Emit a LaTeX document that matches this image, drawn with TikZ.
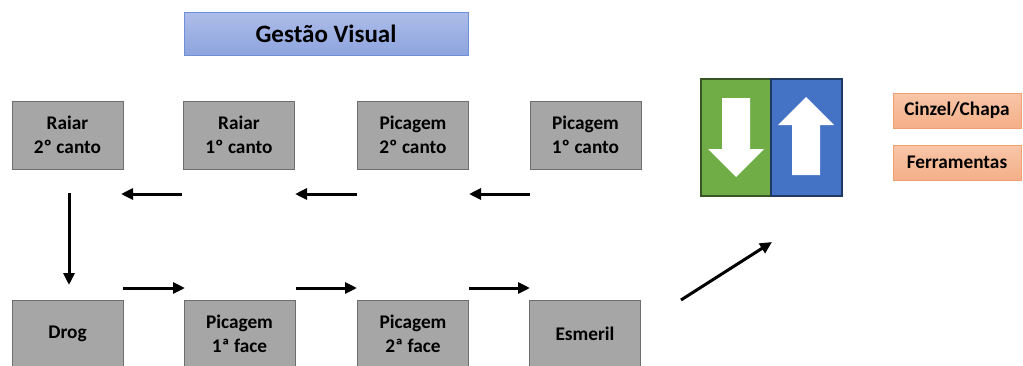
\documentclass[tikz,border=0pt]{standalone}
\usepackage{fontspec}
\setmainfont{Carlito}
\usetikzlibrary{arrows.meta}
\definecolor{boxgray}{HTML}{A6A6A6}
\definecolor{boxedge}{HTML}{6E6E6E}
\definecolor{titletop}{HTML}{AEBDE9}
\definecolor{titlebot}{HTML}{8DA4DE}
\definecolor{titleedge}{HTML}{6F8FD6}
\definecolor{orangetop}{HTML}{F8C6A8}
\definecolor{orangebot}{HTML}{F4AF88}
\definecolor{orangeedge}{HTML}{F2A072}
\definecolor{signgreen}{HTML}{70AD47}
\definecolor{signblue}{HTML}{4472C4}
\definecolor{greenedge}{HTML}{375623}
\definecolor{blueedge}{HTML}{1F3864}
\tikzset{
  stepbox/.style={draw=boxedge, fill=boxgray, line width=1pt,
    minimum width=111pt, minimum height=68pt, inner sep=0pt, align=center,
    font=\bfseries\fontsize{19.3}{24}\selectfont},
  titlebox/.style={draw=titleedge, top color=titletop, bottom color=titlebot,
    line width=0.8pt, minimum width=284pt, minimum height=43pt, inner sep=0pt,
    font=\bfseries\fontsize{25}{30}\selectfont},
  tagbox/.style={draw=orangeedge, top color=orangetop, bottom color=orangebot,
    line width=0.8pt, minimum width=128pt, minimum height=35pt, inner sep=0pt,
    font=\bfseries\fontsize{19.3}{22}\selectfont},
  flow/.style={line width=3pt, -{Triangle[length=12pt,width=11pt]}},
}
\begin{document}
\begin{tikzpicture}[x=1pt, y=-1pt]
\useasboundingbox (0,0) rectangle (1023,365);

% title
\node[titlebox] (title) at (326,33.5) {Gestão Visual};

% upper row
\node[stepbox] (r2) at (67.5,135) {Raiar\\2º canto};
\node[stepbox] (r1) at (239,135) {Raiar\\1º canto};
\node[stepbox] (p2) at (413,135) {Picagem\\2º canto};
\node[stepbox] (p1) at (585.5,135) {Picagem\\1º canto};

% lower row
\node[stepbox] (drog) at (67.5,334) {Drog};
\node[stepbox] (f1) at (239.5,334) {Picagem\\1ª face};
\node[stepbox] (f2) at (413,334) {Picagem\\2ª face};
\node[stepbox] (esm) at (585,334) {Esmeril};

% tags
\node[tagbox] (cinzel) at (957,110.5) {Cinzel/Chapa};
\node[tagbox] (ferr) at (957,162.5) {Ferramentas};

% down / up sign
\node[draw=greenedge, fill=signgreen, line width=1.2pt, minimum width=70pt,
  minimum height=117pt, inner sep=0pt] (down) at (736,137.5) {};
\node[draw=blueedge, fill=signblue, line width=1.2pt, minimum width=71pt,
  minimum height=117pt, inner sep=0pt] (up) at (806.5,137.5) {};
\fill[white] (722,98) -- (750,98) -- (750,149) -- (764,149) -- (736,177)
  -- (708,149) -- (722,149) -- cycle;
\fill[white] (792,175) -- (820,175) -- (820,125) -- (834,125) -- (806,97)
  -- (778,125) -- (792,125) -- cycle;

% arrow end points
\coordinate (a1s) at (530,194); \coordinate (a1e) at (469,194);
\coordinate (a2s) at (357,194); \coordinate (a2e) at (295,194);
\coordinate (a3s) at (182,194); \coordinate (a3e) at (121,194);
\coordinate (a4s) at (69,193);  \coordinate (a4e) at (69,285);
\coordinate (a5s) at (123,288); \coordinate (a5e) at (185,288);
\coordinate (a6s) at (296,288); \coordinate (a6e) at (357,288);
\coordinate (a7s) at (469,288); \coordinate (a7e) at (530,288);
\coordinate (a8s) at (681,300); \coordinate (a8e) at (772,242);

\draw[flow] (a1s) -- (a1e);
\draw[flow] (a2s) -- (a2e);
\draw[flow] (a3s) -- (a3e);
\draw[flow] (a4s) -- (a4e);
\draw[flow] (a5s) -- (a5e);
\draw[flow] (a6s) -- (a6e);
\draw[flow] (a7s) -- (a7e);
\draw[flow] (a8s) -- (a8e);
\end{tikzpicture}
\end{document}
